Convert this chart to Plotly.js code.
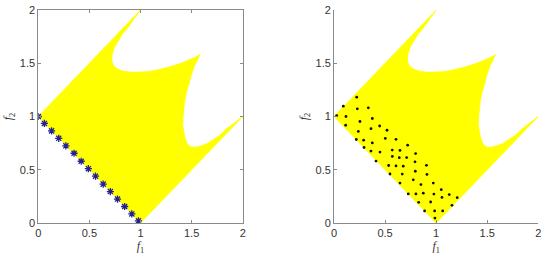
<!DOCTYPE html>
<html>
<head>
<meta charset="utf-8">
<script src="https://cdn.plot.ly/plotly-3.0.1.min.js"></script>
<style>
  html, body { margin: 0; padding: 0; background: #fff; }
  #chart { width: 550px; height: 257px; }
</style>
</head>
<body>
<div id="chart"></div>
<script>
// axis ticks
const tickVals = [0, 0.5, 1, 1.5, 2];
const tickText = ['0', '0.5', '1', '1.5', '2'];

// boundary of the feasible region, clockwise from (0,1)
const regionF1 = [0, 1, 0.94, 0.88, 0.82, 0.783, 0.745, 0.724, 0.718, 0.73, 0.75, 0.79, 0.848, 0.92, 0.978,
  1.06, 1.142, 1.225, 1.305, 1.39, 1.468, 1.53, 1.582,
  1.553, 1.525, 1.497, 1.471, 1.45, 1.431, 1.42, 1.415, 1.412, 1.42, 1.435, 1.46, 1.49, 1.53, 1.588,
  1.65, 1.712, 1.77, 1.837, 1.92, 2, 1, 0];
const regionF2 = [1, 2, 1.92, 1.837, 1.77, 1.712, 1.65, 1.588, 1.525, 1.49, 1.462, 1.44, 1.422, 1.415, 1.415,
  1.42, 1.431, 1.45, 1.471, 1.497, 1.525, 1.553, 1.581,
  1.53, 1.468, 1.39, 1.305, 1.225, 1.142, 1.06, 0.978, 0.92, 0.86, 0.80, 0.74, 0.715, 0.71, 0.722,
  0.745, 0.783, 0.82, 0.881, 0.94, 1, 0, 1];

// left panel: points on the front
const frontF1 = [0, 0.06, 0.13, 0.2, 0.27, 0.35, 0.42, 0.49, 0.56, 0.635, 0.705, 0.775, 0.845, 0.915, 0.98];
const frontF2 = [1, 0.935, 0.865, 0.795, 0.725, 0.655, 0.58, 0.51, 0.44, 0.365, 0.295, 0.225, 0.155, 0.085, 0.02];

// right panel: scattered solutions
const solF1 = [0.026, 0.091, 0.222, 0.117, 0.228, 0.336, 0.114, 0.254, 0.375, 0.238, 0.362, 0.447, 0.519,
  0.218, 0.29, 0.375, 0.502, 0.607, 0.294, 0.362, 0.45, 0.57, 0.646, 0.721,
  0.411, 0.571, 0.639, 0.711, 0.799, 0.535, 0.607, 0.678, 0.793, 0.905,
  0.548, 0.668, 0.796, 0.91, 0.646, 0.776, 0.851, 0.972,
  0.727, 0.802, 0.874, 0.978, 1.05, 1.128, 1.206, 0.829, 0.946, 1.057, 1.155,
  0.887, 0.985, 1.064, 0.988];
const solF2 = [1.009, 1.097, 1.181, 1.0, 1.072, 1.081, 0.918, 0.953, 0.981, 0.86, 0.886, 0.911, 0.871,
  0.784, 0.778, 0.752, 0.794, 0.786, 0.709, 0.675, 0.666, 0.685, 0.681, 0.731,
  0.581, 0.625, 0.613, 0.614, 0.652, 0.54, 0.536, 0.534, 0.574, 0.542,
  0.46, 0.459, 0.486, 0.456, 0.375, 0.405, 0.361, 0.375,
  0.273, 0.273, 0.28, 0.272, 0.313, 0.267, 0.238, 0.194, 0.197, 0.24, 0.166,
  0.113, 0.113, 0.113, 0.046];

const region = (xa, ya) => ({
  type: 'scatter', mode: 'lines', x: regionF1, y: regionF2, xaxis: xa, yaxis: ya,
  fill: 'toself', fillcolor: '#ffff00', line: { color: '#ffff00', width: 0.8 },
  hoverinfo: 'skip', showlegend: false
});

const data = [
  region('x', 'y'),
  region('x2', 'y2'),
  {
    type: 'scatter', mode: 'markers', x: frontF1, y: frontF2, xaxis: 'x', yaxis: 'y',
    marker: { symbol: 'asterisk-open', size: 6, color: '#23238f', line: { color: '#23238f', width: 1.3 } },
    showlegend: false
  },
  {
    type: 'scatter', mode: 'markers', x: solF1, y: solF2, xaxis: 'x2', yaxis: 'y2',
    marker: { symbol: 'circle', size: 2.8, color: '#111' },
    showlegend: false
  }
];

const axisBase = {
  range: [0, 2], tickvals: tickVals, ticktext: tickText,
  ticks: 'inside', ticklen: 3, tickcolor: '#8a8a8a',
  showline: true, linecolor: '#8a8a8a', linewidth: 1,
  showgrid: false, zeroline: false,
  tickfont: { family: 'Liberation Sans, Arial, sans-serif', size: 11, color: '#333' }
};
const titleFont = { family: 'Liberation Serif, Times New Roman, serif', size: 12, color: '#333' };

const layout = {
  width: 550, height: 257,
  margin: { l: 0, r: 0, t: 10, b: 34 },
  paper_bgcolor: '#fff', plot_bgcolor: 'rgba(0,0,0,0)',
  xaxis: Object.assign({}, axisBase, {
    domain: [0.0696, 0.4413], anchor: 'y', mirror: 'ticks',
    title: { text: '<i>f</i><sub>1</sub>', font: titleFont, standoff: 2 }
  }),
  yaxis: Object.assign({}, axisBase, {
    domain: [0, 1], anchor: 'x', mirror: 'ticks',
    title: { text: '<i>f</i><sub>2</sub>', font: titleFont, standoff: 4 }
  }),
  xaxis2: Object.assign({}, axisBase, {
    domain: [0.6073, 0.9787], anchor: 'y2',
    title: { text: '<i>f</i><sub>1</sub>', font: titleFont, standoff: 2 }
  }),
  yaxis2: Object.assign({}, axisBase, {
    domain: [0, 1], anchor: 'x2',
    title: { text: '<i>f</i><sub>2</sub>', font: titleFont, standoff: 4 }
  })
};

Plotly.newPlot('chart', data, layout, { displayModeBar: false, staticPlot: true });
</script>
</body>
</html>
